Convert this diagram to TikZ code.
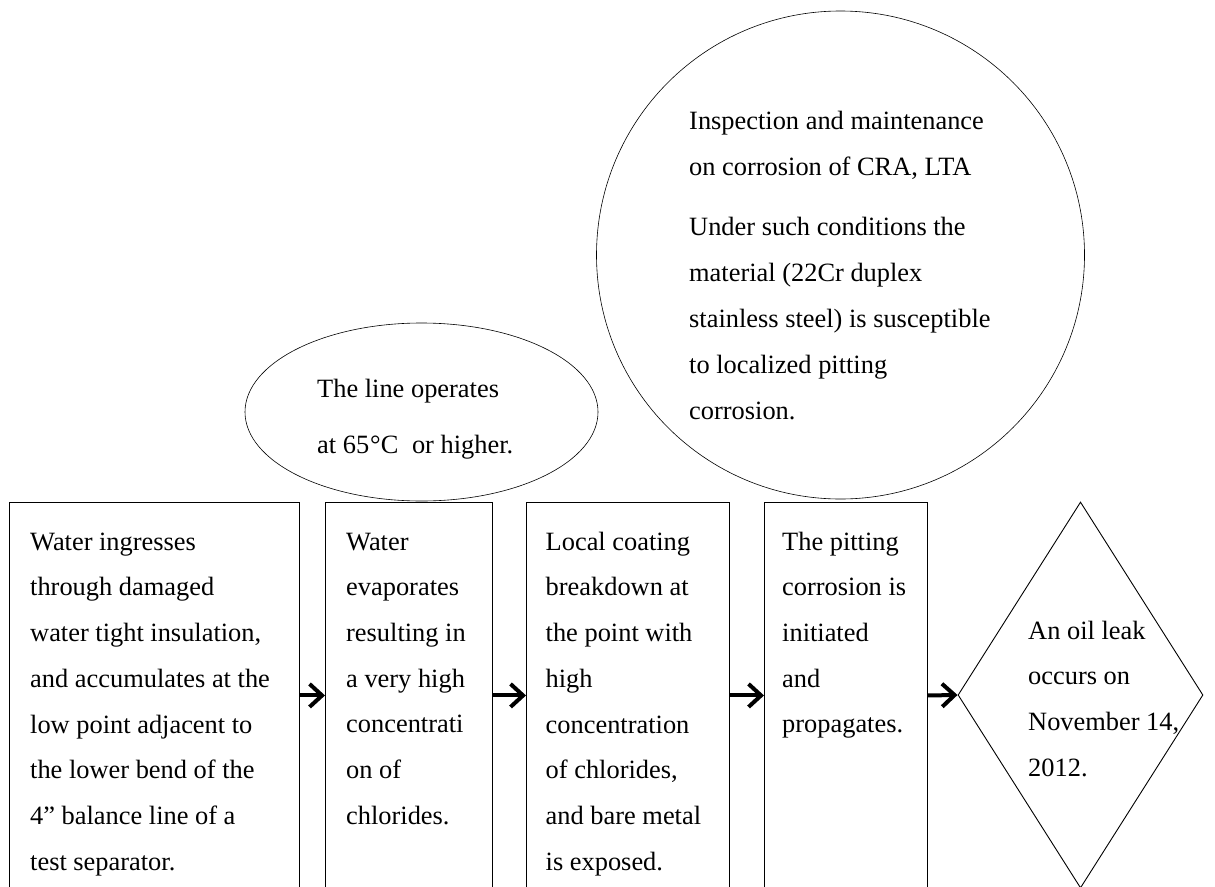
\documentclass[tikz,border=0pt]{standalone}
\usepackage{fontspec}
\setmainfont{Liberation Serif}
\usetikzlibrary{shapes.geometric,arrows.meta}

\begin{document}
\begin{tikzpicture}[x=1pt,y=-1pt,
  stepbox/.style={draw, line width=0.9pt, rectangle, inner sep=0pt,
    minimum height=386pt, anchor=north west},
  bodytext/.style={anchor=north west, align=left, inner sep=0pt,
    font=\fontsize{26.4}{45.7}\selectfont},
  bubble/.style={draw, line width=0.6pt, inner sep=0pt},
  flow/.style={line width=4pt,
    -{Straight Barb[length=12.5pt,width=23pt]}}
]
\useasboundingbox (0,0) rectangle (1215,886);
\clip (0,0) rectangle (1215,886);

% condition bubbles
\node[bubble, ellipse, minimum width=353pt, minimum height=178pt] (hot) at (421.5,412) {};
\node[bubble, circle, minimum size=488pt] (cra) at (840.5,255) {};

% chain of events (boxes run off the lower edge)
\node[stepbox, minimum width=290pt] (b1) at (9,502) {};
\node[stepbox, minimum width=167pt] (b2) at (325,502) {};
\node[stepbox, minimum width=203pt] (b3) at (526,502) {};
\node[stepbox, minimum width=163pt] (b4) at (764,502) {};
\node[draw, line width=0.9pt, diamond, inner sep=0pt, aspect=1,
      minimum width=245pt, minimum height=386pt] (leak) at (1080.5,695) {};

% texts
\node[bodytext] (t1) at (30,518) {\strut Water ingresses\\through damaged\\water tight insulation,\\and accumulates at the\\low point adjacent to\\the lower bend of the\\4” balance line of a\\test separator.};
\node[bodytext] (t2) at (346,518) {\strut Water\\evaporates\\resulting in\\a very high\\concentrati\\on of\\chlorides.};
\node[bodytext] (t3) at (545.5,518) {\strut Local coating\\breakdown at\\the point with\\high\\concentration\\of chlorides,\\and bare metal\\is exposed.};
\node[bodytext] (t4) at (782,518) {\strut The pitting\\corrosion is\\initiated\\and\\propagates.};
\node[bodytext] (t5) at (1028,607) {\strut An oil leak\\occurs on\\November 14,\\2012.};
\node[bodytext, font=\fontsize{26.4}{56}\selectfont] (t6) at (317,357.8)
  {\strut The line operates\\at 65\kern1pt°C\hspace{7pt} or higher.};
\node[bodytext, font=\fontsize{26.4}{46}\selectfont] (t7) at (689,96.8)
  {\strut Inspection and maintenance\\on corrosion of CRA, LTA\\[14pt]Under such conditions the\\material (22Cr duplex\\stainless steel) is susceptible\\to localized pitting\\corrosion.};

% connectors
\draw[flow] (b1.east) -- (b2.west);
\draw[flow] (b2.east) -- (b3.west);
\draw[flow] (b3.east) -- (b4.west);
\draw[flow] (b4.east) -- (leak.west);
\end{tikzpicture}
\end{document}
